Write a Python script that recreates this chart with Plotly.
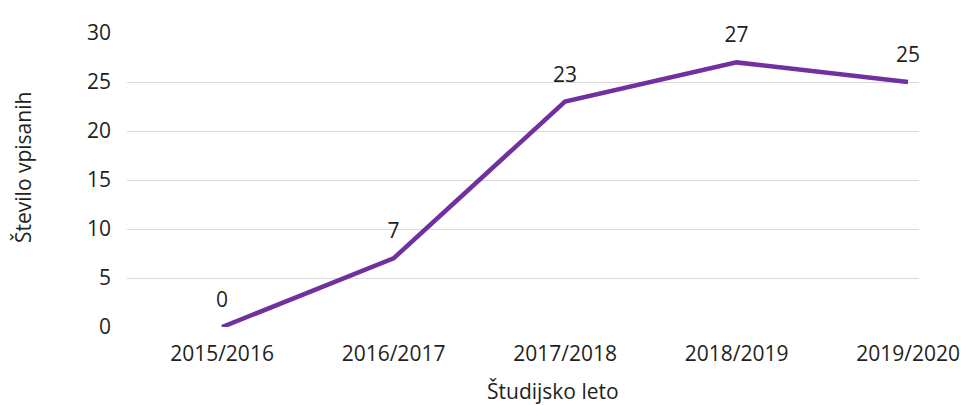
import plotly.graph_objects as go

categories = ["2015/2016", "2016/2017", "2017/2018", "2018/2019", "2019/2020"]
values = [0, 7, 23, 27, 25]
labels = ["0", "7", "23", "27", "25"]
y_ticks = [0, 5, 10, 15, 20, 25, 30]

FONT = "Open Sans"
TXT = "#231f20"
FS = 21
WT = 500

fig = go.Figure()
fig.add_trace(go.Scatter(
    x=list(range(len(categories))), y=values,
    mode="lines+markers+text",
    line=dict(color="#7030a0", width=4.5),
    marker=dict(size=22, color="rgba(0,0,0,0)"),
    text=labels, textposition="top center",
    textfont=dict(family=FONT, size=FS, color=TXT, weight=WT),
    cliponaxis=False, hoverinfo="skip", showlegend=False,
))

# page body has an 8px margin: the figure sits at (8, 8) in the window
W, H = 963, 397
ml, mr, mt, mb = 119, 52, 25, 78
PW, PH = W - ml - mr, H - mt - mb

fig.update_layout(
    width=W, height=H,
    margin=dict(l=ml, r=mr, t=mt, b=mb, autoexpand=False),
    paper_bgcolor="white", plot_bgcolor="white",
    font=dict(family=FONT, size=FS, color=TXT, weight=WT),
    xaxis=dict(
        range=[-0.554, 4.064],
        tickmode="array", tickvals=list(range(len(categories))), ticktext=categories,
        showgrid=False, zeroline=False, showline=False,
        ticks="", ticklabelstandoff=12,
        tickfont=dict(family=FONT, size=FS, color=TXT, weight=WT),
    ),
    yaxis=dict(
        range=[0, 30], tickvals=y_ticks,
        showgrid=True, gridcolor="#d9d9d9", gridwidth=1.3,
        zeroline=False, showline=False, ticks="",
        ticklabelstandoff=15,
        tickfont=dict(family=FONT, size=FS, color=TXT, weight=WT),
    ),
    annotations=[
        dict(text="Študijsko leto", xref="paper", yref="paper",
             x=(545 - ml) / PW, y=(H - mb - 383) / PH,
             xanchor="center", yanchor="middle", showarrow=False,
             font=dict(family=FONT, size=FS, color=TXT, weight=WT)),
        dict(text="Število vpisanih", xref="paper", yref="paper",
             x=(15 - ml) / PW, y=(H - mb - 159) / PH,
             xanchor="center", yanchor="middle", showarrow=False, textangle=-90,
             font=dict(family=FONT, size=FS, color=TXT, weight=WT)),
    ],
)

fig.write_html("out.html")
